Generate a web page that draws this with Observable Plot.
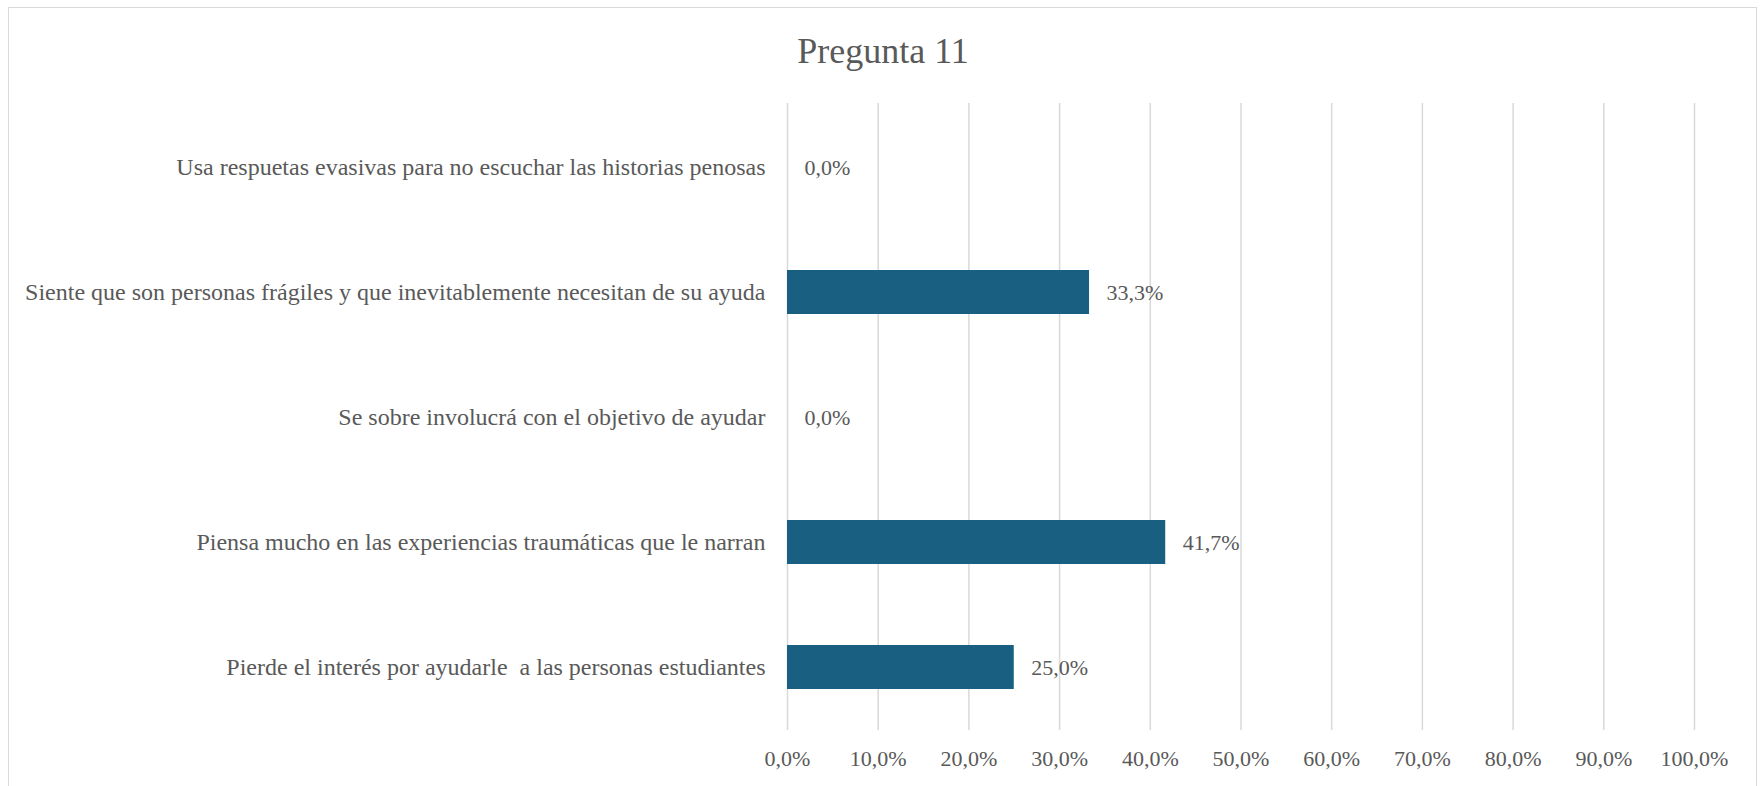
<!DOCTYPE html>
<html>
<head>
<meta charset="utf-8">
<script src="https://cdn.jsdelivr.net/npm/d3@7"></script>
<script src="https://cdn.jsdelivr.net/npm/@observablehq/plot@0.6"></script>
<style>
  html, body { margin: 0; padding: 0; background: #fff; }
  body { width: 1764px; height: 786px; position: relative; overflow: hidden; font-family: "Liberation Serif", serif; }
  #frame { position: absolute; left: 8px; top: 7px; width: 1749px; height: 820px; border: 1.5px solid #d9d9d9; box-sizing: border-box; }
  #title { position: absolute; left: 8px; width: 1750px; top: 33px; text-align: center; font-size: 36px; line-height: 36px; color: #595959; }
  #chart { position: absolute; left: 0; top: 0; }
  #chart svg text { font-family: "Liberation Serif", serif !important; }
</style>
</head>
<body>
<div id="frame"></div>
<div id="title">Pregunta 11</div>
<div id="chart"></div>
<script>
const categories = [
  "Usa respuetas evasivas para no escuchar las historias penosas",
  "Siente que son personas frágiles y que inevitablemente necesitan de su ayuda",
  "Se sobre involucrá con el objetivo de ayudar",
  "Piensa mucho en las experiencias traumáticas que le narran",
  "Pierde el interés por ayudarle  a las personas estudiantes"
];
const values = [0.0, 33.3, 0.0, 41.7, 25.0];
const xTicks = [0, 10, 20, 30, 40, 50, 60, 70, 80, 90, 100];

const data = categories.map((c, i) => ({category: c, value: values[i]}));
const fmt = v => v.toFixed(1).replace(".", ",") + "%";
const serif = "Liberation Serif";

const chart = Plot.plot({
  width: 1764,
  height: 786,
  marginTop: 103,
  marginBottom: 56,
  marginLeft: 787,
  marginRight: 70,
  style: {fontFamily: serif, color: "#595959", background: "transparent", overflow: "visible"},
  x: {domain: [0, 100], ticks: xTicks},
  y: {domain: categories, paddingInner: 0.65, paddingOuter: 0.325, label: null},
  marks: [
    Plot.gridX(xTicks, {stroke: "#d9d9d9", strokeOpacity: 1, strokeWidth: 1.5}),
    Plot.barX(data, {x: "value", y: "category", fill: "#185f81"}),
    Plot.text(data, {x: "value", y: "category", text: d => fmt(d.value), textAnchor: "start", dx: 17, fontSize: 22, fontFamily: serif, fill: "#595959"}),
    Plot.axisX(xTicks, {tickSize: 0, tickPadding: 20, tickFormat: fmt, fontSize: 22, fontFamily: serif, label: null, fill: "#595959"}),
    Plot.axisY({tickSize: 0, tickPadding: 22, fontSize: 24, fontFamily: serif, label: null, fill: "#595959"})
  ]
});
document.getElementById("chart").appendChild(chart);
</script>
</body>
</html>
